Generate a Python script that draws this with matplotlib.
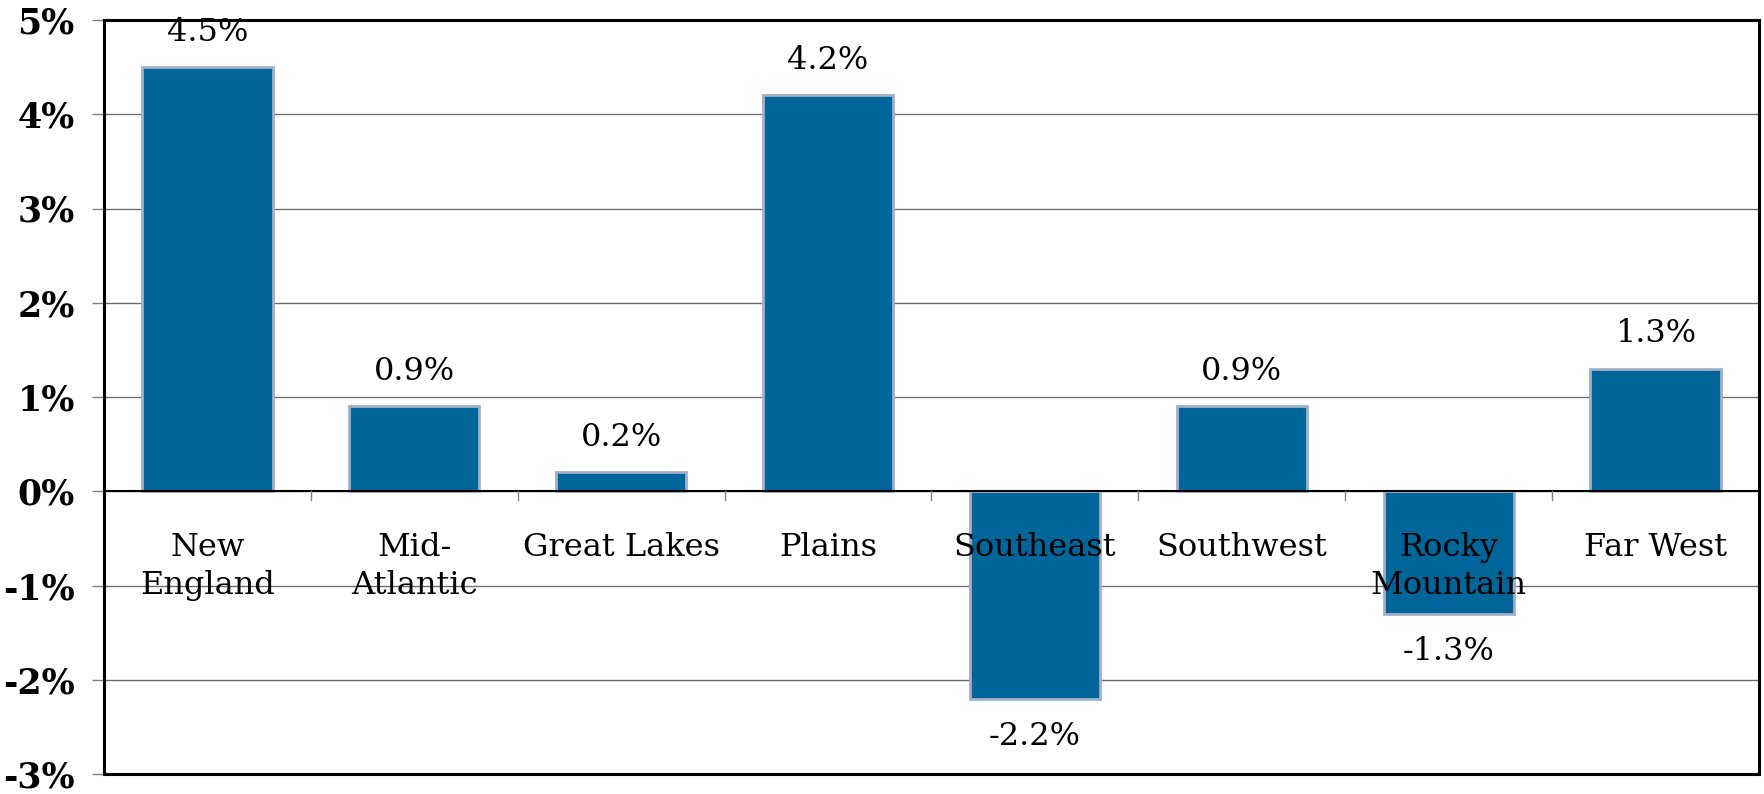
import matplotlib

matplotlib.use("Agg")
import matplotlib.pyplot as plt
import numpy as np

regions = ["New\nEngland", "Mid-\nAtlantic", "Great Lakes", "Plains",
           "Southeast", "Southwest", "Rocky\nMountain", "Far West"]
changes = [4.5, 0.9, 0.2, 4.2, -2.2, 0.9, -1.3, 1.3]
y_ticks = [-3, -2, -1, 0, 1, 2, 3, 4, 5]

plt.rcParams["font.family"] = ["DejaVu Serif"]

W, H = 1765, 794
fig = plt.figure(figsize=(W / 100, H / 100), dpi=100)
ax = fig.add_axes([104 / W, 20 / H, (1759 - 104) / W, (774 - 20) / H])

x = np.arange(len(regions))
ax.bar(x, changes, width=0.63, color="#006699", edgecolor="#A3AFC6",
       linewidth=2, zorder=3)

ax.set_xlim(-0.5, len(regions) - 0.5)
ax.set_ylim(min(y_ticks), max(y_ticks))
ax.set_yticks(y_ticks)
ax.set_yticklabels([f"{t}%" for t in y_ticks], fontsize=25, fontweight="bold")
ax.tick_params(axis="y", length=9, width=1, color="#808080", pad=12)
ax.set_xticks([])
ax.grid(axis="y", color="#6e6e6e", linewidth=1, zorder=0)
ax.axhline(0, color="black", linewidth=1.5, zorder=4)

# small separators between categories on the zero line
for b in x[:-1] + 0.5:
    ax.plot([b, b], [0, -0.09], color="#808080", linewidth=1, zorder=4)

for s in ax.spines.values():
    s.set_linewidth(2.2)
    s.set_color("black")

for i, (name, v) in enumerate(zip(regions, changes)):
    ax.annotate(name, xy=(i, 0), xytext=(0, -29), textcoords="offset points",
                ha="center", va="top", fontsize=23, linespacing=1.3, zorder=5)
    if v >= 0:
        ax.annotate(f"{v:.1f}%", xy=(i, v), xytext=(0, 14), textcoords="offset points",
                    ha="center", va="bottom", fontsize=23, zorder=5)
    else:
        ax.annotate(f"{v:.1f}%", xy=(i, v), xytext=(0, -16), textcoords="offset points",
                    ha="center", va="top", fontsize=23, zorder=5)

fig.savefig("out.png", dpi=100)
